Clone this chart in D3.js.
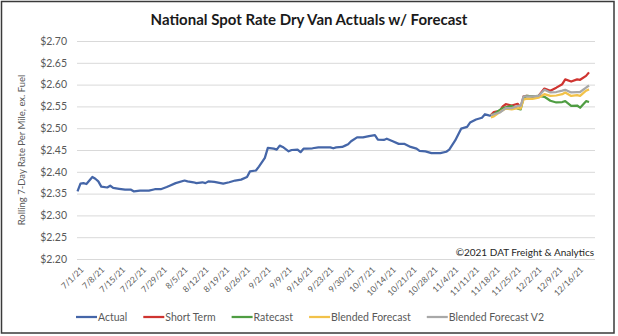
<!DOCTYPE html>
<html>
<head>
<meta charset="utf-8">
<script src="https://cdn.jsdelivr.net/npm/d3@7"></script>
<style>
    body { margin: 0; background: #fff; }
    #chart-area { width: 618px; height: 336px; }
    text { font-family: Lato, "Open Sans", sans-serif; }
</style>
</head>
<body>
<div id="chart-area"></div>
<script>

// data
let actualDates = ["7/1","7/2","7/3","7/4","7/6","7/7","7/8","7/9","7/11","7/12","7/13","7/15","7/17","7/19","7/20","7/22","7/25","7/27","7/29","7/31",
    "8/1","8/3","8/6","8/7","8/9","8/10","8/12","8/13","8/14","8/16","8/19","8/21","8/23","8/25","8/27","8/28","8/30","8/31",
    "9/2","9/3","9/5","9/6","9/7","9/8","9/10","9/11","9/13","9/14","9/15","9/16","9/18","9/20","9/21","9/24","9/25","9/26","9/28","9/29","9/30",
    "10/1","10/3","10/5","10/7","10/9","10/10","10/12","10/13","10/15","10/17","10/19","10/21","10/23","10/24","10/26","10/28","10/31",
    "11/2","11/3","11/5","11/7","11/9","11/10","11/12","11/14","11/15","11/16","11/17"];
let actualValues = [2.355,2.373,2.374,2.372,2.388,2.384,2.378,2.366,2.364,2.368,2.363,2.361,2.359,2.359,2.355,2.357,2.357,2.360,2.360,2.365,
    2.368,2.374,2.380,2.378,2.376,2.374,2.376,2.374,2.378,2.377,2.373,2.376,2.380,2.382,2.388,2.401,2.403,2.412,
    2.432,2.455,2.453,2.451,2.460,2.457,2.447,2.450,2.451,2.445,2.453,2.453,2.454,2.456,2.456,2.456,2.454,2.456,2.457,2.460,2.463,
    2.470,2.479,2.479,2.482,2.484,2.474,2.473,2.476,2.470,2.464,2.464,2.457,2.453,2.448,2.447,2.443,2.443,
    2.446,2.451,2.472,2.499,2.503,2.513,2.520,2.524,2.532,2.530,2.528];

let forecastDates = ["11/17","11/18","11/20","11/21","11/22","11/24","11/26","11/27","11/28","11/29","12/1",
    "12/3","12/5","12/7","12/9","12/11","12/12","12/14","12/16","12/17","12/19","12/20"];
let shortTerm = [2.530,2.537,2.540,2.550,2.555,2.552,2.556,2.547,2.573,2.574,2.573,2.574,2.591,2.586,2.593,2.601,2.612,2.607,2.612,2.611,2.620,2.628];
let ratecast  = [2.530,2.532,2.542,2.546,2.548,2.551,2.545,2.543,2.570,2.574,2.573,2.574,2.572,2.563,2.559,2.560,2.562,2.551,2.552,2.547,2.562,2.560];
let blended   = [2.525,2.527,2.537,2.541,2.545,2.543,2.546,2.545,2.566,2.567,2.567,2.570,2.578,2.574,2.575,2.578,2.582,2.574,2.576,2.574,2.586,2.589];
let blendedV2 = [2.530,2.532,2.536,2.541,2.546,2.546,2.551,2.551,2.573,2.573,2.573,2.574,2.588,2.582,2.583,2.586,2.588,2.582,2.583,2.583,2.593,2.598];

let yTicks = [2.20,2.25,2.30,2.35,2.40,2.45,2.50,2.55,2.60,2.65,2.70];
let xTickLabels = ["7/1/21","7/8/21","7/15/21","7/22/21","7/29/21","8/5/21","8/12/21","8/19/21","8/26/21","9/2/21","9/9/21","9/16/21","9/23/21",
    "9/30/21","10/7/21","10/14/21","10/21/21","10/28/21","11/4/21","11/11/21","11/18/21","11/25/21","12/2/21","12/9/21","12/16/21"];

let seriesNames = ["Actual","Short Term","Ratecast","Blended Forecast","Blended Forecast V2"];
let seriesColors = ["#4566a8","#cf3430","#4f9d42","#f2c24a","#a8a8a8"];

let parseDay = d3.timeParse("%m/%d/%Y");
let parseTick = d3.timeParse("%m/%d/%y");

class LineChart {

    constructor(parentElement) {
        this.parentElement = parentElement;

        let toPoints = (dates, vals) => dates.map((d, i) => ({date: parseDay(d + "/2021"), value: vals[i]}));
        this.series = [
            toPoints(actualDates, actualValues),
            toPoints(forecastDates, shortTerm),
            toPoints(forecastDates, ratecast),
            toPoints(forecastDates, blended),
            toPoints(forecastDates, blendedV2)
        ];

        this.initVis();
    }

    initVis() {
        let vis = this;

        vis.margin = {top: 41, right: 23, bottom: 77, left: 77};
        vis.fullWidth = 618;
        vis.fullHeight = 336;
        vis.width = vis.fullWidth - vis.margin.left - vis.margin.right;
        vis.height = vis.fullHeight - vis.margin.top - vis.margin.bottom;

        vis.root = d3.select("#" + vis.parentElement).append("svg")
            .attr("width", vis.fullWidth)
            .attr("height", vis.fullHeight);

        // chart border
        vis.root.append("rect")
            .attr("x", 1.5).attr("y", 1.5)
            .attr("width", 612.5).attr("height", 331.5)
            .attr("fill", "#fff")
            .attr("stroke", "#3a3a3a")
            .attr("stroke-width", 1.5);

        // title
        vis.root.append("text")
            .attr("x", 309)
            .attr("y", 25)
            .attr("text-anchor", "middle")
            .attr("font-size", 15)
            .attr("font-weight", "bold")
            .attr("fill", "#1a1a1a")
            .text("National Spot Rate Dry Van Actuals w/ Forecast");

        vis.svg = vis.root.append("g")
            .attr("transform", "translate(" + vis.margin.left + "," + vis.margin.top + ")");

        // scales
        vis.x = d3.scaleTime()
            .domain([parseDay("7/1/2021"), parseDay("12/21/2021")])
            .range([0.5, 515]);
        vis.y = d3.scaleLinear()
            .domain([2.20, 2.70])
            .range([vis.height, 0]);

        // y axis with gridlines
        vis.yAxis = vis.svg.append("g")
            .attr("class", "axis axis--y")
            .call(d3.axisLeft(vis.y)
                .tickValues(yTicks)
                .tickSize(-vis.width)
                .tickPadding(10)
                .tickFormat(d3.format("$.2f")));
        vis.yAxis.select(".domain").remove();
        vis.yAxis.selectAll(".tick line").attr("stroke", "#d9d9d9").attr("stroke-width", 1);
        vis.yAxis.selectAll(".tick text")
            .attr("font-family", "Lato, sans-serif")
            .attr("font-size", 10.5)
            .attr("fill", "#595959");

        // axis title
        vis.svg.append("text")
            .attr("transform", "rotate(-90)")
            .attr("x", -vis.height / 2)
            .attr("y", -52)
            .attr("text-anchor", "middle")
            .attr("font-size", 9.5)
            .attr("fill", "#595959")
            .text("Rolling 7-Day Rate Per Mile, ex. Fuel");

        // x axis, rotated labels
        vis.xAxis = vis.svg.append("g")
            .attr("class", "axis axis--x")
            .attr("transform", "translate(0," + vis.height + ")")
            .call(d3.axisBottom(vis.x)
                .tickValues(xTickLabels.map(parseTick))
                .tickSize(0)
                .tickFormat(d3.timeFormat("%-m/%-d/%y")));
        vis.xAxis.select(".domain").remove();
        vis.xAxis.selectAll(".tick text")
            .attr("font-family", "Lato, sans-serif")
            .attr("font-size", 8.5)
            .attr("fill", "#595959")
            .attr("text-anchor", "end")
            .attr("dy", "0.35em")
            .attr("transform", "translate(2,7) rotate(-45)");

        // copyright note
        vis.svg.append("text")
            .attr("x", vis.width - 1)
            .attr("y", vis.height - 3)
            .attr("text-anchor", "end")
            .attr("font-size", 10)
            .attr("fill", "#262626")
            .text("\u00a92021 DAT Freight & Analytics");

        // lines
        vis.line = d3.line()
            .x(d => vis.x(d.date))
            .y(d => vis.y(d.value));

        vis.svg.append("g").attr("class", "pathGroup")
            .selectAll("path")
            .data(vis.series)
            .join("path")
            .attr("d", vis.line)
            .attr("fill", "none")
            .attr("stroke", (d, i) => seriesColors[i])
            .attr("stroke-width", 2.25)
            .attr("stroke-linejoin", "round");

        vis.drawLegend();
    }

    drawLegend() {
        let vis = this;

        let legend = vis.root.append("g")
            .attr("class", "legend")
            .attr("transform", "translate(76,317)");

        let offset = 0;
        seriesNames.forEach((name, i) => {
            let item = legend.append("g").attr("transform", "translate(" + offset + ",0)");
            item.append("line")
                .attr("x1", 0).attr("x2", 21)
                .attr("stroke", seriesColors[i])
                .attr("stroke-width", 2.25);
            let label = item.append("text")
                .attr("x", 22)
                .attr("dy", "0.35em")
                .attr("font-size", 10.5)
                .attr("fill", "#595959")
                .text(name);
            offset += 22 + label.node().getComputedTextLength() + 16;
        });
    }
}

new LineChart("chart-area");

</script>
</body>
</html>
